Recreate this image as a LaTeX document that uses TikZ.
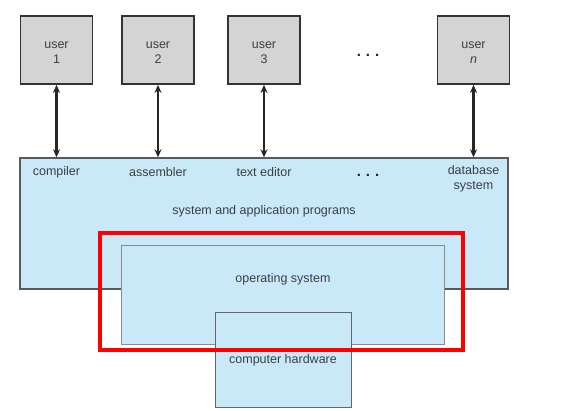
\documentclass[tikz,border=0pt]{standalone}
\usepackage{fontspec}
\setmainfont{Liberation Sans}
\usetikzlibrary{arrows.meta}
\definecolor{txt}{HTML}{3A3F44}
\definecolor{lblue}{HTML}{C9E9F8}
\definecolor{ugray}{HTML}{D4D4D4}
\tikzset{
  lbl/.style={text=txt, font=\fontsize{12.5}{15}\selectfont, align=center, inner sep=0pt},
  userbox/.style={draw=black!80, line width=1.8pt, fill=ugray, minimum width=72, minimum height=68, inner sep=0pt},
  layer/.style={fill=lblue, inner sep=0pt},
  link/.style={{Stealth[length=8pt,width=7pt]}-{Stealth[length=8pt,width=7pt]}, line width=2.1pt, black!85},
  dots/.style={text=black!85, font=\fontsize{15}{15}\selectfont\bfseries, inner sep=0pt}
}
\begin{document}
\begin{tikzpicture}[x=1pt,y=-1pt]
\useasboundingbox[fill=white] (0,0) rectangle (562,411);
% user boxes
\node[userbox] (u1) at (56.5,50) {};
\node[userbox] (u2) at (158,50) {};
\node[userbox] (u3) at (264,50) {};
\node[userbox] (un) at (473.5,50) {};
\node[lbl] (t1) at (56.5,52.5) {user\\1};
\node[lbl] (t2) at (158,52.5) {user\\2};
\node[lbl] (t3) at (264,52.5) {user\\3};
\node[lbl] (tn) at (473.5,52.5) {user\\\textit{n}};
\node[dots] (ud) at (368,55) {.\,\,.\,\,.};
% system and application programs
\node[layer, draw=black!65, line width=1.4pt, minimum width=488, minimum height=131] (sys) at (264,223.5) {};
\node[lbl] (c1) at (56.5,172) {compiler};
\node[lbl] (c2) at (158,172) {assembler};
\node[lbl] (c3) at (264,172) {text editor};
\node[dots] (cd) at (368,175) {.\,\,.\,\,.};
\node[lbl] (cn) at (473.5,179) {database\\system};
\node[lbl] (sap) at (264,211) {system and application programs};
% operating system
\node[layer, draw=black!45, line width=0.9pt, minimum width=323, minimum height=99] (os) at (282.5,294.5) {};
\node[lbl] (osl) at (283,279) {operating system};
% hardware
\node[layer, draw=black!60, line width=0.9pt, minimum width=136, minimum height=95] (hw) at (283,359.5) {};
\node[lbl] (hwl) at (283,360) {computer hardware};
% red highlight
\node[draw=red, line width=3.8pt, minimum width=363, minimum height=117, inner sep=0pt] (hl) at (281.5,291.5) {};
% arrows
\draw[link] (u1.south) -- (u1.south |- sys.north);
\draw[link] (u2.south) -- (u2.south |- sys.north);
\draw[link] (u3.south) -- (u3.south |- sys.north);
\draw[link] (un.south) -- (un.south |- sys.north);
\end{tikzpicture}
\end{document}
